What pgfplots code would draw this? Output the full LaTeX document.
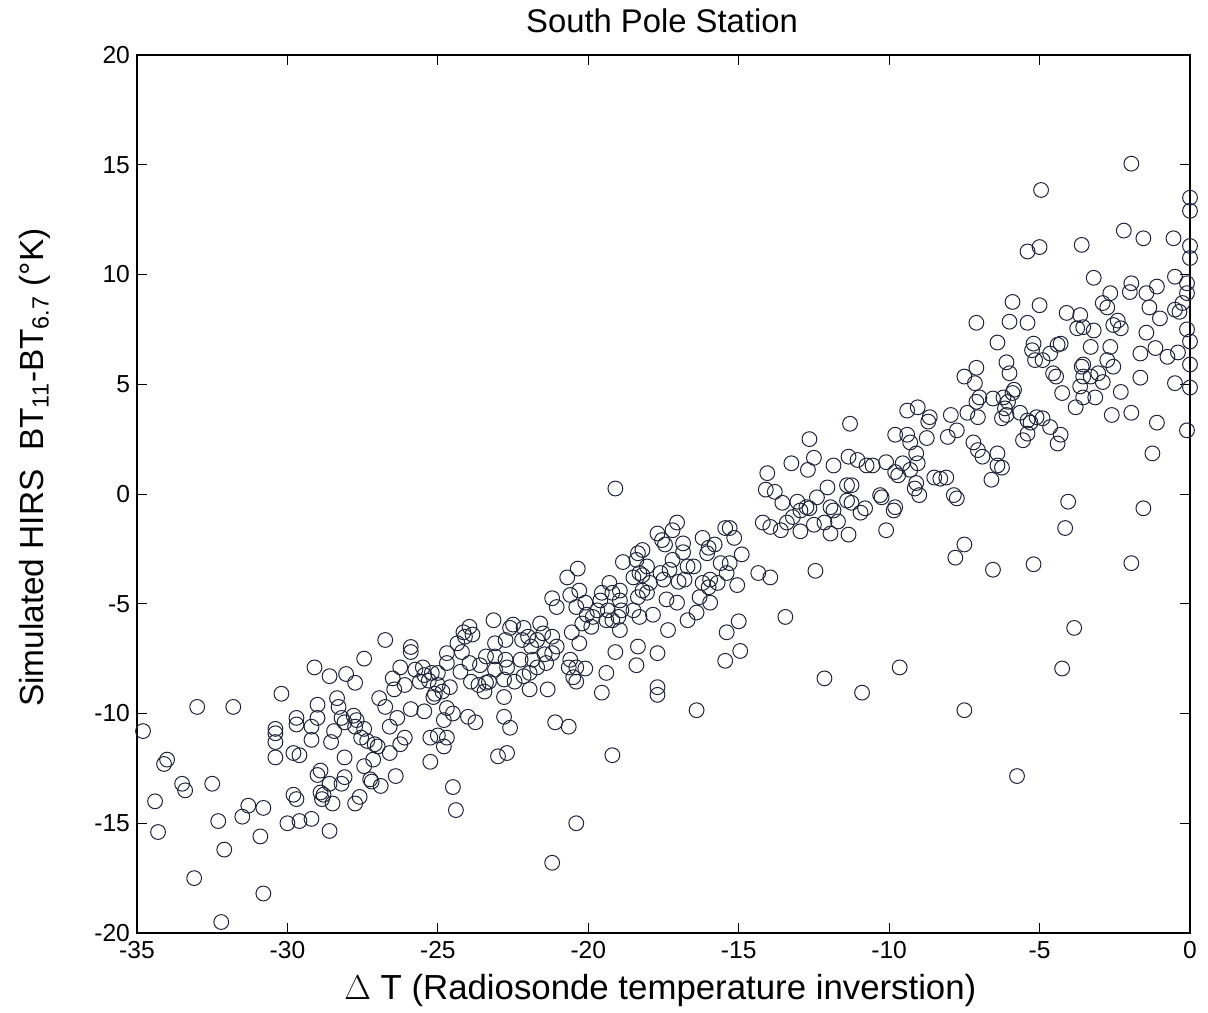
\documentclass[border=0pt]{standalone}
\usepackage{fontspec}
\setmainfont{Liberation Sans}
\usepackage{pgfplots}
\pgfplotsset{compat=1.18}
\definecolor{MarkDark}{RGB}{34,34,58}

\begin{document}
\begin{tikzpicture}
\useasboundingbox (-68.5pt,-39.5pt) rectangle (535.5pt,466.5pt);
\begin{axis}[
  scale only axis,
  width=526.5pt,
  height=439pt,
  xmin=-35, xmax=0,
  ymin=-20, ymax=20,
  xtick={-35,-30,...,0},
  ytick={-20,-15,...,20},
  tick align=inside,
  major tick length=5pt,
  tick style={black, line width=0.5pt},
  axis line style={black, line width=0.6pt},
  /pgf/number format/assume math mode=true,
  ticklabel style={font=\fontsize{12.3}{14}\selectfont},
  xticklabel style={yshift=-3pt, inner sep=1pt},
  clip=false,
  title={South Pole Station},
  title style={font=\fontsize{16.4}{18}\selectfont, at={(axis description cs:0.4986,1.040)}, anchor=center, yshift=-6.5pt},
  xlabel={$\Delta$ T (Radiosonde temperature inverstion)},
  xlabel style={font=\fontsize{17.4}{19}\selectfont, at={(axis description cs:0.497,-0.066)}, anchor=center, inner sep=0pt},
  ylabel={Simulated HIRS~~BT\textsubscript{11}-BT\textsubscript{6.7} (°K)},
  ylabel style={font=\fontsize{16.7}{18}\selectfont, at={(axis description cs:-0.097,0.53)}, anchor=center},
]
\addplot[only marks, mark=o, mark size=3.7pt, color=MarkDark, mark options={line width=0.5pt}] coordinates {
(-34.8,-10.8) (-34.4,-14.0) (-34.3,-15.4) (-34.1,-12.3) (-34.0,-12.1) (-33.5,-13.2) (-33.4,-13.5) (-33.0,-9.7)
(-33.1,-17.5) (-32.5,-13.2) (-32.3,-14.9) (-32.1,-16.2) (-32.2,-19.5) (-31.8,-9.7) (-31.5,-14.7) (-31.3,-14.2)
(-30.9,-15.6) (-30.8,-14.3) (-30.8,-18.2) (-30.2,-9.1) (-30.4,-10.7) (-30.4,-10.9) (-30.4,-11.3) (-30.4,-12.0)
(-30.0,-15.0)
(-29.7,-10.2) (-29.7,-10.5) (-29.8,-11.8) (-29.6,-11.9) (-29.8,-13.7) (-29.7,-13.9) (-29.6,-14.9) (-29.2,-14.8)
(-28.6,-15.35) (-29.1,-7.9) (-28.6,-8.3) (-29.0,-9.6) (-29.0,-10.2) (-29.2,-10.6) (-29.2,-11.2) (-28.55,-11.3)
(-28.45,-10.8) (-28.9,-12.6) (-29.0,-12.8) (-28.6,-13.2) (-28.9,-13.6) (-28.85,-13.9) (-28.5,-14.1) (-28.8,-13.7)
(-28.1,-12.9) (-28.2,-13.2) (-28.1,-12.0) (-27.6,-13.8) (-27.75,-14.1) (-27.2,-13.1) (-26.9,-13.3) (-26.4,-12.85)
(-28.05,-8.2) (-27.75,-8.6) (-27.45,-7.5) (-26.75,-6.65) (-25.9,-6.97) (-25.9,-7.2) (-28.35,-9.3) (-28.3,-9.7)
(-28.2,-10.2) (-28.1,-10.4) (-27.8,-10.1) (-27.7,-10.3) (-27.75,-10.6) (-27.45,-10.7) (-27.55,-11.1) (-27.35,-11.25)
(-27.1,-11.4) (-27.0,-11.5) (-27.15,-12.1) (-27.45,-12.4) (-27.25,-13.0) (-26.95,-9.3) (-26.75,-9.7) (-26.6,-10.6)
(-26.35,-10.2) (-26.1,-11.1) (-26.25,-11.4) (-26.6,-11.8) (-26.5,-8.4) (-26.45,-8.9) (-26.1,-8.7) (-25.9,-9.8)
(-25.45,-9.9) (-26.25,-7.9) (-25.75,-8.0) (-25.45,-8.25) (-25.3,-8.5) (-25.0,-8.15) (-25.1,-9.1) (-25.25,-11.1)
(-25.0,-11.0) (-24.8,-11.5) (-25.25,-12.2) (-25.5,-7.9) (-25.6,-8.55) (-25.2,-8.15) (-25.0,-8.7) (-24.85,-9.0)
(-25.15,-9.25) (-24.7,-11.1)
(-24.7,-7.7) (-24.7,-7.25) (-24.6,-8.8) (-24.7,-9.75) (-24.8,-10.3) (-24.5,-10.0) (-24.5,-13.35) (-24.4,-14.4)
(-24.35,-6.8) (-24.15,-6.3) (-23.95,-6.05) (-23.85,-6.4) (-24.1,-6.5) (-24.2,-7.2) (-24.25,-8.1) (-23.95,-7.7)
(-23.6,-7.8) (-23.9,-8.55) (-23.65,-8.7) (-23.4,-8.6) (-23.3,-8.55) (-23.45,-9.0) (-23.1,-8.0) (-23.1,-7.4)
(-23.4,-7.4) (-23.1,-6.8) (-22.75,-6.65) (-22.75,-7.55) (-22.7,-7.9) (-22.8,-8.45) (-22.8,-9.25) (-22.8,-10.15)
(-22.6,-10.65) (-23.0,-11.95) (-22.7,-11.8) (-24.0,-10.15) (-23.75,-10.4) (-23.15,-5.75) (-22.6,-6.1) (-22.5,-5.95)
(-22.15,-6.1) (-22.0,-6.5) (-21.9,-6.95) (-22.2,-6.65) (-21.7,-6.65) (-21.6,-5.9) (-21.5,-6.35) (-21.2,-6.5)
(-21.05,-6.95) (-21.2,-7.25) (-21.45,-7.3) (-21.4,-7.7) (-21.7,-7.9) (-21.95,-8.15) (-22.15,-8.3) (-22.45,-8.55)
(-21.95,-8.9) (-21.35,-8.9) (-22.25,-7.55) (-21.85,-7.55) (-21.1,-10.4) (-20.65,-10.6) (-20.4,-15.0) (-21.2,-16.8)
(-21.2,-4.75) (-21.05,-5.15) (-20.7,-3.8) (-20.35,-3.4) (-20.6,-4.6) (-20.3,-4.4) (-20.4,-5.15) (-20.1,-4.95)
(-20.05,-5.5) (-20.2,-5.9) (-20.55,-6.3) (-20.3,-6.8) (-20.6,-7.55) (-20.4,-7.9) (-20.1,-7.95) (-20.65,-7.9)
(-20.5,-8.35) (-20.4,-8.55)
(-19.85,-5.6) (-19.9,-6.05) (-19.7,-5.3) (-19.6,-4.85) (-19.55,-4.5) (-19.3,-4.05) (-19.2,-4.5) (-18.95,-4.4)
(-18.95,-4.85) (-19.35,-5.3) (-19.2,-5.75) (-18.95,-6.2) (-18.9,-5.3) (-19.2,-11.9) (-19.55,-9.05) (-19.4,-8.15)
(-19.1,-7.2) (-18.35,-6.95) (-18.4,-7.8) (-17.7,-7.25) (-17.7,-8.8) (-17.7,-9.15) (-17.35,-6.2) (-18.85,-3.1)
(-18.4,-3.0) (-18.2,-2.55) (-18.35,-2.7) (-18.05,-3.3) (-18.2,-3.7) (-18.2,-4.4) (-18.35,-4.7) (-17.95,-4.05)
(-17.7,-1.8) (-17.55,-2.1) (-17.45,-2.3) (-17.2,-1.65) (-17.05,-1.3) (-17.2,-3.0) (-17.3,-3.45) (-17.5,-3.9)
(-17.4,-4.8) (-17.85,-5.5) (-18.5,-5.3) (-19.1,0.25) (-16.85,-2.25) (-18.3,-3.6) (-17.6,-3.6) (-16.85,-2.65)
(-16.7,-3.3) (-16.8,-3.9) (-17.0,-4.0) (-16.5,-3.3) (-16.2,-2.0) (-16.0,-2.45) (-16.05,-2.7) (-15.8,-2.3)
(-15.45,-1.55) (-15.3,-1.55) (-15.15,-2.0) (-14.9,-2.75) (-15.3,-3.15) (-15.4,-3.6) (-15.6,-3.15) (-15.7,-4.05)
(-15.95,-3.9) (-16.2,-4.05) (-16.3,-4.7) (-15.95,-4.95) (-16.4,-5.4) (-16.7,-5.75) (-17.05,-4.95) (-18.3,-5.6)
(-18.05,-4.5) (-18.5,-3.8) (-19.0,-5.6) (-19.4,-5.75) (-14.35,-3.6) (-13.95,-3.8) (-15.05,-4.15) (-13.45,-5.6)
(-15.0,-5.8) (-15.4,-6.3) (-14.95,-7.15) (-15.45,-7.6) (-12.15,-8.4) (-10.9,-9.05) (-9.65,-7.9) (-16.4,-9.85)
(-16.0,-4.25)
(-11.3,3.2) (-9.8,2.7) (-12.65,2.5) (-13.25,1.4) (-12.5,1.65) (-12.7,1.1) (-14.05,0.95) (-14.1,0.2)
(-13.8,0.1) (-13.55,-0.4) (-13.05,-0.35) (-12.75,-0.6) (-13.2,-1.05) (-13.4,-1.3) (-13.6,-1.65) (-13.95,-1.5)
(-14.2,-1.3) (-12.95,-1.7) (-12.5,-1.4) (-12.05,0.3) (-11.95,-0.6) (-11.85,-0.75) (-11.4,-0.3) (-11.4,0.4)
(-11.85,1.3) (-11.35,1.7) (-11.05,1.55) (-10.75,1.3) (-10.55,1.3) (-10.1,1.45) (-9.8,1.0) (-10.25,-0.15)
(-10.1,-1.65) (-10.95,-0.85) (-11.35,-1.85) (-11.95,-1.8) (-9.85,-0.75) (-12.4,-0.15) (-12.95,-0.75) (-12.45,-3.5)
(-12.15,-1.3) (-11.7,-1.25) (-12.65,-0.65)
(-9.4,3.8) (-9.05,3.95) (-8.7,3.3) (-9.3,2.35) (-8.75,2.55) (-9.1,1.85) (-9.05,1.4) (-9.55,1.4)
(-9.7,0.85) (-9.3,1.1) (-9.1,0.5) (-9.15,0.25) (-9.0,-0.05) (-8.5,0.75) (-8.1,0.75) (-8.3,0.7)
(-7.85,-0.05) (-7.75,-0.2) (-10.3,-0.05) (-9.8,-0.6) (-10.8,-0.65) (-11.25,0.4) (-11.25,-0.4) (-8.65,3.5)
(-9.4,2.7)
(-7.95,3.6) (-7.75,2.9) (-8.05,2.6) (-7.4,3.7) (-7.1,4.2) (-7.0,4.4) (-7.05,3.5) (-7.5,5.35)
(-7.15,5.05) (-7.1,5.75) (-6.55,4.35) (-6.2,4.4) (-6.05,4.2) (-6.15,3.9) (-6.25,3.45) (-6.1,3.6)
(-5.9,4.6) (-5.65,3.7) (-5.3,3.25) (-5.4,3.35) (-5.55,2.45) (-5.4,2.75) (-5.1,3.5) (-4.9,3.45)
(-4.65,3.05) (-4.3,2.7) (-4.4,2.3) (-7.2,2.35) (-7.05,2.0) (-6.9,1.7) (-6.4,1.85) (-6.25,1.2)
(-6.6,0.65) (-6.4,1.3)
(-7.1,7.8) (-6.4,6.9) (-6.1,6.0) (-6.0,5.5) (-5.9,8.75) (-6.0,7.85) (-5.0,8.6) (-5.4,7.8)
(-5.25,6.55) (-5.15,6.1) (-4.9,6.1) (-4.65,6.4) (-4.4,6.8) (-4.55,5.5) (-4.45,5.35) (-4.25,4.6)
(-3.8,3.95) (-4.1,8.25) (-3.65,8.15) (-3.75,7.55) (-3.55,7.6) (-3.2,7.45) (-3.3,6.7) (-3.55,5.9)
(-3.3,5.35) (-3.65,4.9) (-3.55,4.4) (-3.15,4.4) (-2.9,5.1) (-2.75,6.1) (-2.65,6.7) (-2.55,7.7)
(-2.3,7.55) (-2.4,7.9) (-1.95,9.6) (-2.0,9.2) (-2.65,9.15) (-2.9,8.7) (-2.75,8.5) (-3.2,9.85)
(-1.45,9.15) (-1.35,8.5) (-1.1,9.45) (-1.0,8.0) (-1.45,7.35) (-1.65,6.4) (-1.65,5.3) (-2.3,4.65)
(-1.95,3.7) (-2.6,3.6) (-1.15,6.65) (-0.75,6.25) (-0.4,6.45) (-0.5,5.05) (-1.1,3.25) (-1.25,1.85)
(-0.5,8.4) (-0.35,8.3) (-0.5,9.9) (-0.1,9.6) (-0.1,7.5) (-0.1,2.9)
(-2.55,5.8) (-3.05,5.5) (-3.6,5.8) (-3.55,5.35) (-4.3,6.85) (-5.2,6.85) (-5.85,4.75)
(-4.05,-0.35) (-4.15,-1.55) (-1.55,-0.65) (-7.5,-2.3) (-1.95,-3.15) (-5.2,-3.2) (-7.8,-2.9) (-6.55,-3.45)
(-3.85,-6.1) (-4.25,-7.95) (-7.5,-9.85) (-5.75,-12.85)
(-1.95,15.05) (-4.95,13.85) (-5.4,11.05) (-5.0,11.25) (-3.6,11.35) (-2.2,12.0) (-1.55,11.65) (-0.55,11.65)
(0,13.5) (0,12.9) (0,11.3) (0,10.75) (-0.1,9.15) (-0.25,8.7) (0,6.95) (0,5.9) (0,4.85)
};
\end{axis}
\end{tikzpicture}
\end{document}
